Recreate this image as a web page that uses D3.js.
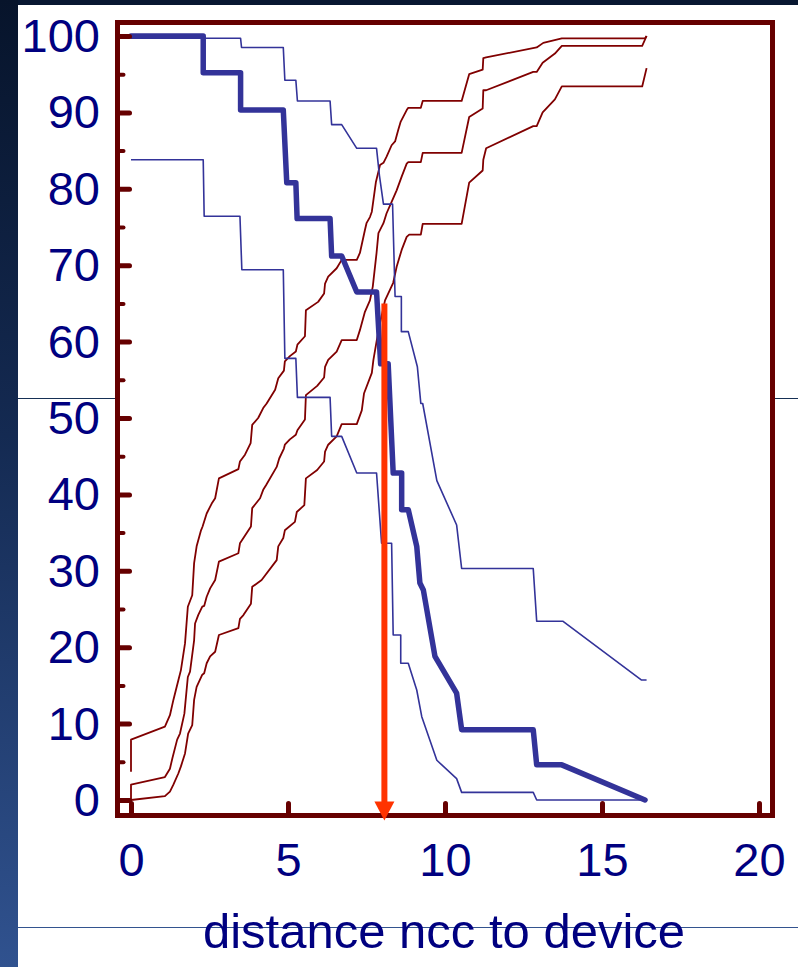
<!DOCTYPE html>
<html lang="en">
<head>
<meta charset="UTF-8">
<title>distance ncc to device</title>
<style>
    body { margin: 0; background: #ffffff; }
    svg { display: block; }
    text { font-family: "Liberation Sans", Arial, sans-serif; fill: #000080; }
</style>
</head>
<body>
<svg id="SVG"></svg>
<script src="https://d3js.org/d3.v7.min.js"></script>
<script>
    // values: [distance, percent]
    var survival = [[0,100],[2.30,100],[2.30,95.2],[3.49,95.2],[3.49,90.3],[4.85,90.3],[4.96,80.8],[5.25,80.8],
        [5.29,76.1],[6.34,76.1],[6.39,71.2],[6.71,71.2],[7.19,66.5],[7.82,66.5],[7.95,57.1],[8.19,57.1],
        [8.35,42.8],[8.62,42.8],[8.62,38.0],[8.83,38.0],[9.10,33.2],[9.20,28.4],[9.31,27.5],[9.68,18.8],
        [10.37,14.0],[10.53,9.2],[12.81,9.2],[12.92,4.6],[13.72,4.6],[16.37,0]];

    var survivalUpper = [[0,99.7],[3.49,99.7],[3.52,98.5],[4.85,98.5],[4.90,94.2],[5.25,94.2],[5.30,91.5],
        [6.34,91.5],[6.39,88.4],[6.71,88.4],[7.19,85.3],[7.82,85.3],[7.91,81.8],[8.04,78.0],[8.33,78.0],
        [8.41,65.9],[8.61,65.9],[8.61,61.3],[8.83,61.3],[9.12,56.7],[9.23,51.9],[9.29,51.9],[9.74,41.8],
        [10.37,36.0],[10.53,30.3],[12.81,30.3],[12.92,23.4],[13.75,23.4],[16.26,15.7],[16.42,15.7]];

    var survivalLower = [[0,83.8],[2.30,83.8],[2.33,76.4],[3.47,76.4],[3.53,69.4],[4.85,69.4],[4.90,57.8],
        [5.25,57.8],[5.30,52.7],[6.34,52.7],[6.39,47.6],[6.71,47.6],[7.19,42.8],[7.82,42.8],[7.90,38.2],
        [7.98,33.6],[8.30,33.6],[8.35,21.6],[8.59,21.6],[8.59,17.9],[8.83,17.9],[9.10,14.4],[9.26,10.9],
        [9.74,5.2],[10.37,2.8],[10.53,1.0],[12.81,1.0],[12.92,0],[16.32,0]];

    var incidence = [[0,0],[0,2.0],[1.08,3.0],[1.24,4.1],[1.32,5.5],[1.47,7.9],[1.56,8.7],[1.70,11.3],
        [1.81,16.1],[1.88,16.8],[2.01,20.9],[2.04,23.1],[2.14,24.2],[2.27,25.3],[2.33,25.4],[2.41,26.6],
        [2.52,27.7],[2.68,28.8],[2.80,31.2],[3.42,32.3],[3.47,33.6],[3.58,34.3],[3.82,35.8],[3.86,38.2],
        [4.11,39.5],[4.21,40.6],[4.30,41.2],[4.64,43.6],[4.72,44.7],[4.87,46.0],[4.90,46.5],[5.06,47.2],
        [5.25,47.8],[5.30,48.4],[5.54,49.8],[5.57,53.0],[5.93,54.2],[6.15,55.3],[6.18,56.7],[6.28,57.6],
        [6.55,58.7],[6.71,60.2],[7.19,60.2],[7.29,61.5],[7.45,63.9],[7.61,65.4],[7.70,67.2],[7.82,71.6],
        [7.88,74.2],[8.04,75.5],[8.14,76.8],[8.30,78.3],[8.46,79.8],[8.62,81.6],[8.78,83.3],[8.83,83.5],
        [9.23,83.5],[9.29,84.7],[10.53,84.7],[10.77,89.4],[11.20,90.5],[11.22,92.9],[11.31,92.9],
        [12.81,95.3],[12.92,95.3],[13.11,96.5],[13.50,97.7],[13.72,98.7],[16.28,98.7],[16.42,100]];

    var incidenceUpper = [[0,3.7],[0,7.9],[1.08,9.6],[1.24,11.1],[1.35,13.1],[1.51,15.7],[1.59,17.0],
        [1.72,20.5],[1.81,25.3],[1.95,26.8],[2.01,31.0],[2.09,33.2],[2.23,35.3],[2.28,35.8],[2.41,37.5],
        [2.57,38.8],[2.68,39.5],[2.80,42.1],[3.42,43.3],[3.47,44.3],[3.63,45.2],[3.81,46.7],[3.86,49.1],
        [4.05,50.0],[4.21,51.3],[4.32,51.9],[4.59,53.7],[4.69,55.2],[4.87,56.2],[4.90,57.4],[5.06,58.1],
        [5.25,58.7],[5.30,59.6],[5.54,60.7],[5.57,64.1],[5.96,65.2],[6.15,66.3],[6.18,67.6],[6.28,68.5],
        [6.55,69.6],[6.71,70.7],[7.19,70.7],[7.29,71.6],[7.45,74.6],[7.50,75.5],[7.61,76.3],[7.67,77.0],
        [7.80,80.9],[7.93,83.1],[8.04,83.4],[8.14,84.2],[8.30,85.7],[8.41,86.2],[8.51,87.7],[8.59,88.8],
        [8.78,90.3],[8.83,90.6],[9.23,90.6],[9.29,91.5],[10.53,91.5],[10.77,95.0],[11.20,95.6],
        [11.22,97.1],[11.31,97.2],[12.92,98.5],[13.13,99.1],[13.72,99.7],[16.37,99.7],[16.42,100]];

    var incidenceLower = [[0,0],[1.08,0.5],[1.24,1.1],[1.35,2.0],[1.51,3.5],[1.59,4.4],[1.72,6.1],
        [1.82,8.7],[1.95,9.8],[2.01,13.1],[2.09,14.8],[2.27,16.4],[2.33,16.6],[2.41,17.9],[2.52,18.8],
        [2.68,19.4],[2.80,21.6],[3.42,22.5],[3.47,23.7],[3.58,24.2],[3.82,25.7],[3.86,27.9],[4.16,28.8],
        [4.64,31.4],[4.69,33.2],[4.85,34.3],[4.90,35.3],[5.22,36.4],[5.28,37.7],[5.52,38.6],[5.57,42.1],
        [5.93,43.2],[6.15,44.3],[6.18,45.6],[6.28,46.5],[6.55,47.6],[6.71,49.2],[7.19,49.2],[7.35,51.0],
        [7.42,53.2],[7.67,55.9],[7.72,57.6],[7.82,60.0],[7.93,62.4],[8.09,65.4],[8.25,66.8],[8.35,67.7],
        [8.46,69.8],[8.62,72.0],[8.78,73.7],[8.86,74.0],[9.23,74.0],[9.29,75.4],[10.53,75.4],[10.77,80.8],
        [11.20,82.4],[11.22,83.8],[11.31,85.3],[12.81,88.2],[12.92,88.2],[13.11,90.0],[13.50,91.7],
        [13.72,93.4],[16.28,93.4],[16.42,95.8]];

    // the orange marker: distance and the percent where it starts
    var markerX = 8.07;
    var markerTop = 65;

    var xTicks = [0, 5, 10, 15, 20];
    var yTicks = [0, 10, 20, 30, 40, 50, 60, 70, 80, 90, 100];
    var yMinorTicks = [5, 15, 25, 35, 45, 55, 65, 75, 85, 95];
    var xTitle = "distance ncc to device";

    var width = 798;
    var height = 967;
    var frame = { left: 117.5, right: 772.5, top: 22.5, bottom: 815.5 };

    var svg = d3.select("#SVG")
        .attr("width", width)
        .attr("height", height);

    // slide decoration: dark band on top and gradient band on the left
    var defs = svg.append("defs");
    var grad = defs.append("linearGradient")
        .attr("id", "band")
        .attr("x1", 0).attr("y1", 0).attr("x2", 0).attr("y2", 1);
    grad.append("stop").attr("offset", "0%").attr("stop-color", "#07142b");
    grad.append("stop").attr("offset", "45%").attr("stop-color", "#142a52");
    grad.append("stop").attr("offset", "100%").attr("stop-color", "#30528f");

    svg.append("line")
        .attr("x1", 0).attr("x2", width).attr("y1", 398.5).attr("y2", 398.5)
        .attr("stroke", "#163055").attr("stroke-width", 1);
    svg.append("line")
        .attr("x1", 0).attr("x2", width).attr("y1", 927.5).attr("y2", 927.5)
        .attr("stroke", "#33538f").attr("stroke-width", 1);

    svg.append("rect").attr("x", 0).attr("y", 0).attr("width", width).attr("height", 5)
        .attr("fill", "#081731");
    svg.append("rect").attr("x", 0).attr("y", 0).attr("width", 18).attr("height", height)
        .attr("fill", "url(#band)");

    // plot area
    svg.append("rect")
        .attr("x", frame.left).attr("y", frame.top)
        .attr("width", frame.right - frame.left).attr("height", frame.bottom - frame.top)
        .attr("fill", "#ffffff");

    var x = d3.scaleLinear().domain([0, 20]).range([131, 759]);
    var y = d3.scaleLinear().domain([0, 100]).range([800, 36]);

    var line = d3.line()
        .x(d => x(d[0]))
        .y(d => y(d[1]));

    var group = svg.append("g");

    // red curves (cumulative) and their bounds
    [incidenceUpper, incidence, incidenceLower].forEach(function (s) {
        group.append("path")
            .datum(s)
            .attr("d", line)
            .attr("fill", "none")
            .attr("stroke", "#800000")
            .attr("stroke-width", 1.8)
            .attr("stroke-linejoin", "round");
    });

    // blue curves: bounds thin, estimate thick
    [survivalUpper, survivalLower].forEach(function (s) {
        group.append("path")
            .datum(s)
            .attr("d", line)
            .attr("fill", "none")
            .attr("stroke", "#333399")
            .attr("stroke-width", 1.6)
            .attr("stroke-linejoin", "round");
    });
    group.append("path")
        .datum(survival)
        .attr("d", line)
        .attr("fill", "none")
        .attr("stroke", "#333399")
        .attr("stroke-width", 5.5)
        .attr("stroke-linecap", "round")
        .attr("stroke-linejoin", "round");

    // frame
    svg.append("rect")
        .attr("x", frame.left).attr("y", frame.top)
        .attr("width", frame.right - frame.left).attr("height", frame.bottom - frame.top)
        .attr("fill", "none")
        .attr("stroke", "#660000")
        .attr("stroke-width", 5);

    // Y axis, ticks point inwards
    var axisY = d3.axisLeft(y).tickValues(yTicks).tickSizeInner(-12).tickSizeOuter(0).tickPadding(17.5);
    var gy = svg.append("g").attr("transform", `translate(${frame.left},0)`).call(axisY);
    gy.select(".domain").remove();
    gy.selectAll("line").attr("stroke", "#660000").attr("stroke-width", 5).attr("stroke-linecap", "round");
    gy.selectAll("text")
        .attr("dy", "0.33em")
        .style("font-size", "47px")
        .attr("fill", "#000080");

    var axisYMinor = d3.axisLeft(y).tickValues(yMinorTicks).tickSizeInner(-6).tickSizeOuter(0).tickFormat("");
    var gym = svg.append("g").attr("transform", `translate(${frame.left},0)`).call(axisYMinor);
    gym.select(".domain").remove();
    gym.selectAll("line").attr("stroke", "#660000").attr("stroke-width", 4).attr("stroke-linecap", "round");

    // X axis
    var axisX = d3.axisBottom(x).tickValues(xTicks).tickSizeInner(-12).tickSizeOuter(0);
    var gx = svg.append("g").attr("transform", `translate(0,${frame.bottom})`).call(axisX);
    gx.select(".domain").remove();
    gx.selectAll("line").attr("stroke", "#660000").attr("stroke-width", 5).attr("stroke-linecap", "round");
    gx.selectAll("text")
        .attr("y", 876 - frame.bottom)
        .attr("dy", null)
        .style("font-size", "47px")
        .attr("fill", "#000080");

    svg.append("text")
        .attr("x", 444)
        .attr("y", 948)
        .attr("text-anchor", "middle")
        .style("font-size", "49px")
        .text(xTitle);

    // orange arrow at the crossing distance
    var ax = x(markerX);
    var headBase = y(0) + 1.5;
    svg.append("line")
        .attr("x1", ax).attr("x2", ax)
        .attr("y1", y(markerTop)).attr("y2", headBase + 2)
        .attr("stroke", "#ff3300")
        .attr("stroke-width", 6);
    svg.append("path")
        .attr("d", `M${ax - 10},${headBase} L${ax + 10},${headBase} L${ax},${headBase + 19} Z`)
        .attr("fill", "#ff3300");
</script>
</body>
</html>
